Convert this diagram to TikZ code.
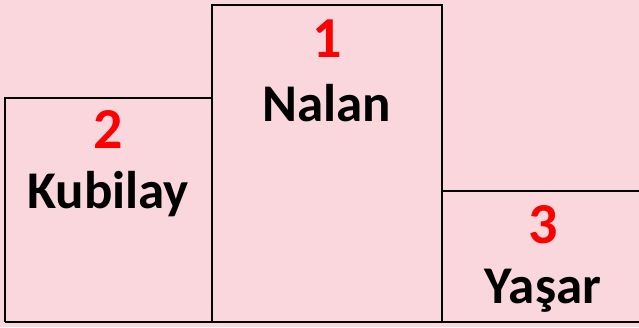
\documentclass[tikz,border=0pt]{standalone}
\usepackage{fontspec}
\setmainfont{Carlito}
\usepackage{xcolor}
\definecolor{podiumpink}{RGB}{250,215,220}
\definecolor{rankred}{RGB}{255,0,0}

\begin{document}
\begin{tikzpicture}[
    x=1pt, y=-1pt,
    step line/.style={draw=black, line width=2pt},
    ranktext/.style={anchor=base, inner sep=0pt, text=rankred, font=\fontsize{58}{64}\selectfont\bfseries},
    persontext/.style={anchor=base, inner sep=0pt, text=black, font=\fontsize{53}{60}\selectfont\bfseries},
]

% Background
\fill[podiumpink] (0,0) rectangle (639,327);
\useasboundingbox (0,0) rectangle (639,327);

% Podium steps
\coordinate (secondtl) at (5,98);
\coordinate (firsttl) at (212,5);
\coordinate (firsttr) at (442,5);
\coordinate (thirdtr) at (639,191);
\coordinate (groundl) at (5,322);
\coordinate (groundr) at (639,322);

\draw[step line] (groundl) -- (secondtl) -- (secondtl -| firsttl);
\draw[step line] (firsttl |- groundl) -- (firsttl) -- (firsttr) -- (firsttr |- groundl);
\draw[step line] (firsttr |- thirdtr) -- (thirdtr);
\draw[step line] (groundl) -- (groundr);

% Ranks and names
\node[ranktext] (rankone) at (327,57) {1};
\node[persontext] (nalan) at (327,121) {Nalan};

\node[ranktext] (ranktwo) at (108,148) {2};
\node[persontext] (kubilay) at (108,208) {Kubilay};

\node[ranktext] (rankthree) at (543,243) {3};
\node[persontext] (yasar) at (543,303) {Yaşar};

\end{tikzpicture}
\end{document}
